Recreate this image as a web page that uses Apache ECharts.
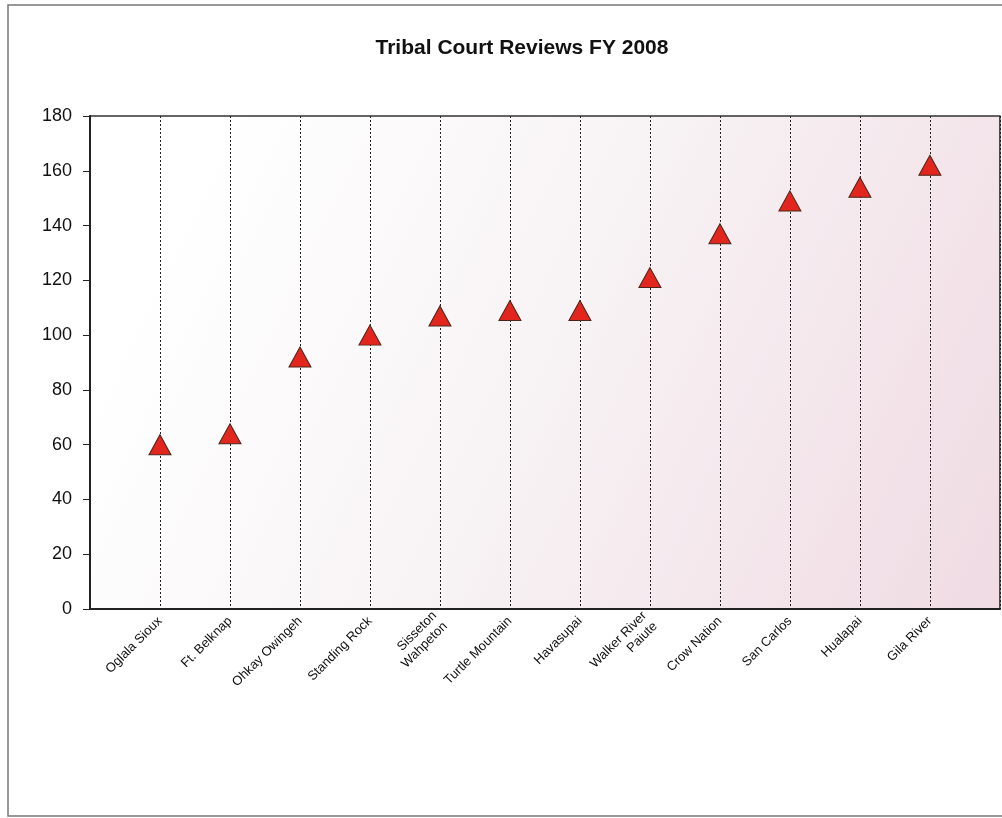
<!DOCTYPE html>
<html>
<head>
<meta charset="utf-8">
<script src="https://cdn.jsdelivr.net/npm/echarts@6/dist/echarts.min.js"></script>
<style>
  html, body { margin: 0; padding: 0; background: #fff; }
  #main { width: 1002px; height: 818px; }
</style>
</head>
<body>
<div id="main"></div>
<script>
var courts = ['Oglala Sioux', 'Ft. Belknap', 'Ohkay Owingeh', 'Standing Rock', 'Sisseton\nWahpeton',
  'Turtle Mountain', 'Havasupai', 'Walker River\nPaiute', 'Crow Nation', 'San Carlos', 'Hualapai', 'Gila River'];
var reviews = [60, 64, 92, 100, 107, 109, 109, 121, 137, 149, 154, 162];
var yTicks = [0, 20, 40, 60, 80, 100, 120, 140, 160, 180];

// empty slot at each end so the points sit one step in from the plot edges
var cats = [''].concat(courts, ['']);
var points = reviews.map(function(v, i) { return [i + 1, v]; });

var myChart = echarts.init(document.getElementById('main'));

var option = {
  backgroundColor: '#fff',
  title: {
    text: 'Tribal Court Reviews FY 2008',
    left: 517,
    top: 33,
    textAlign: 'center',
    textStyle: { fontFamily: 'Liberation Sans', fontSize: 21, fontWeight: 'bold', color: '#111' }
  },
  graphic: [{
    type: 'rect',
    shape: { x: 8, y: 5, width: 1010, height: 811 },
    style: { fill: 'none', stroke: '#777', lineWidth: 1.5 },
    silent: true
  }],
  grid: {
    left: 90, top: 116, right: 2, bottom: 209,
    show: true,
    borderColor: '#333',
    borderWidth: 1.5,
    backgroundColor: new echarts.graphic.LinearGradient(0.1, 0.2, 1, 1, [
      { offset: 0, color: '#ffffff' },
      { offset: 0.4, color: '#f8f4f6' },
      { offset: 1, color: '#f0dbe3' }
    ])
  },
  xAxis: {
    type: 'category',
    data: cats,
    boundaryGap: false,
    axisLine: { lineStyle: { color: '#222', width: 2 } },
    axisTick: { show: false },
    axisLabel: {
      interval: 0,
      rotate: 45,
      margin: 10,
      fontFamily: 'Liberation Sans',
      fontSize: 13,
      lineHeight: 15,
      color: '#111'
    },
    splitLine: { show: true, lineStyle: { color: '#222', width: 1, type: [2, 2] } }
  },
  yAxis: {
    type: 'value',
    min: yTicks[0],
    max: yTicks[yTicks.length - 1],
    interval: 20,
    axisLine: { show: true, lineStyle: { color: '#222', width: 2 } },
    axisTick: { show: true, length: 7, lineStyle: { color: '#222', width: 1 } },
    axisLabel: { margin: 18, fontFamily: 'Liberation Sans', fontSize: 18, color: '#111' },
    splitLine: { show: false }
  },
  series: [{
    name: 'Reviews',
    type: 'scatter',
    data: points,
    symbol: 'triangle',
    symbolSize: [22, 20],
    z: 5,
    itemStyle: { color: '#e3261d', opacity: 1, borderColor: '#4a2418', borderWidth: 1 }
  }]
};

myChart.setOption(option);
</script>
</body>
</html>
